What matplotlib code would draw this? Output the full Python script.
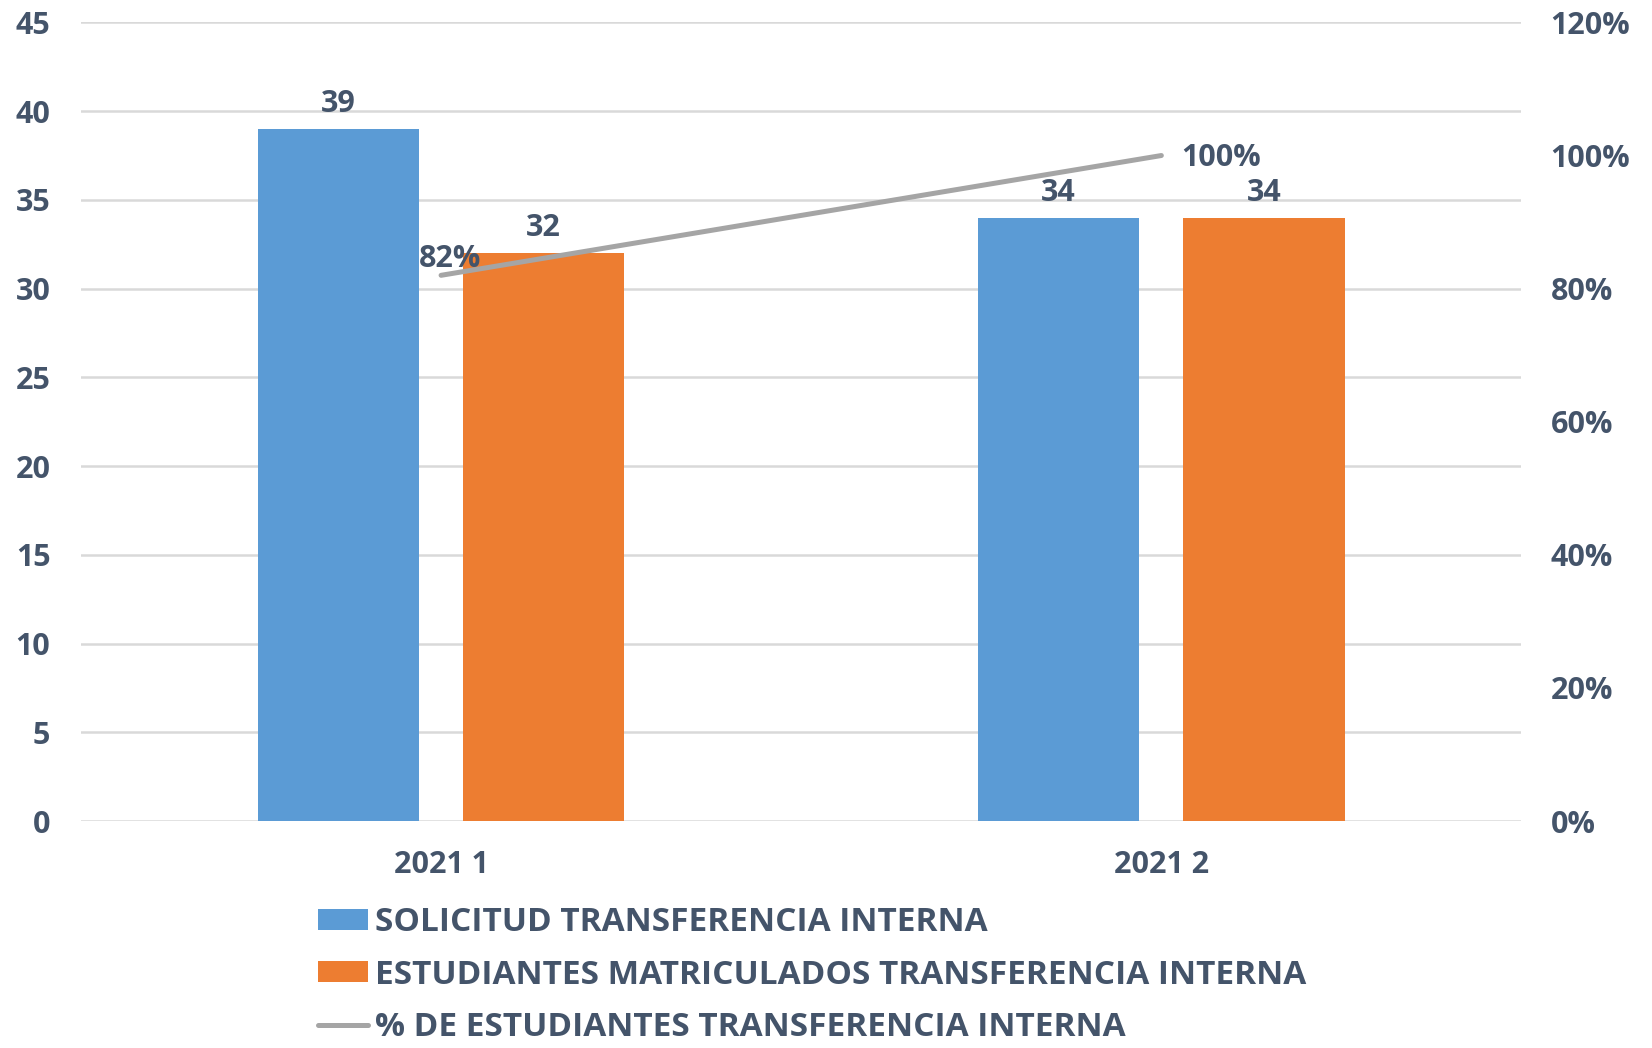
import numpy as np
import matplotlib
matplotlib.use("Agg")
import matplotlib.pyplot as plt
from matplotlib.ticker import FuncFormatter

categorias = ["2021 1", "2021 2"]
solicitud = [39, 34]
matriculados = [32, 34]
porcentaje = [0.82, 1.00]

series = [
    "SOLICITUD TRANSFERENCIA INTERNA",
    "ESTUDIANTES MATRICULADOS TRANSFERENCIA INTERNA",
    "% DE ESTUDIANTES TRANSFERENCIA INTERNA",
]

azul = "#5B9BD5"
naranja = "#ED7D31"
gris = "#A5A5A5"
texto = "#44546A"

plt.rcParams["font.family"] = ["Open Sans", "DejaVu Sans"]
plt.rcParams["font.weight"] = "bold"

fig = plt.figure(figsize=(16.52, 10.48), dpi=100)
ax = fig.add_axes([0.049, 0.2166, 0.872, 0.762])
ax2 = ax.twinx()

ind = np.arange(len(categorias))
width = 0.224
off = 0.1425

b1 = ax.bar(ind - off, solicitud, width, color=azul, label=series[0], zorder=2)
b2 = ax.bar(ind + off, matriculados, width, color=naranja, label=series[1], zorder=2)

for bars in (b1, b2):
    for r in bars:
        ax.annotate("%d" % r.get_height(), (r.get_x() + r.get_width() / 2, r.get_height()),
                    xytext=(0, 7), textcoords="offset points", ha="center", va="bottom",
                    fontsize=22, color=texto, fontweight="bold")

l1, = ax2.plot(ind, porcentaje, color=gris, lw=3.6, solid_capstyle="round", label=series[2], zorder=3)
ax2.annotate("82%", (ind[0], porcentaje[0]), xytext=(-16, 1), textcoords="offset points",
             ha="left", va="bottom", fontsize=22, color=texto, fontweight="bold")
ax2.annotate("100%", (ind[1], porcentaje[1]), xytext=(14, -2), textcoords="offset points",
             ha="left", va="center", fontsize=22, color=texto, fontweight="bold")

ax.set_xlim(-0.5, 1.5)
ax.set_ylim(0, 45)
ax.set_yticks(np.arange(0, 46, 5))
ax2.set_ylim(0, 1.2)
ax2.set_yticks(np.arange(0, 1.21, 0.2))
ax2.yaxis.set_major_formatter(FuncFormatter(lambda v, p: "%d%%" % round(v * 100)))

ax.set_xticks(ind)
ax.set_xticklabels(categorias)
ax.yaxis.grid(True, color="#D9D9D9", lw=1.8, zorder=0)
ax.set_axisbelow(True)

for a in (ax, ax2):
    for s in a.spines.values():
        s.set_visible(False)
    a.tick_params(length=0, labelsize=22, labelcolor=texto)
ax.tick_params(axis="y", pad=22)
ax2.tick_params(axis="y", pad=21)
ax.tick_params(axis="x", pad=21)

fig.legend([b1, b2, l1], series, loc="upper left", bbox_to_anchor=(0.1845, 0.148),
           frameon=False, fontsize=24, labelcolor=texto, handlelength=1.5,
           handleheight=0.6, handletextpad=0.2, labelspacing=0.58, borderaxespad=0)

fig.savefig("out.png", dpi=100)
